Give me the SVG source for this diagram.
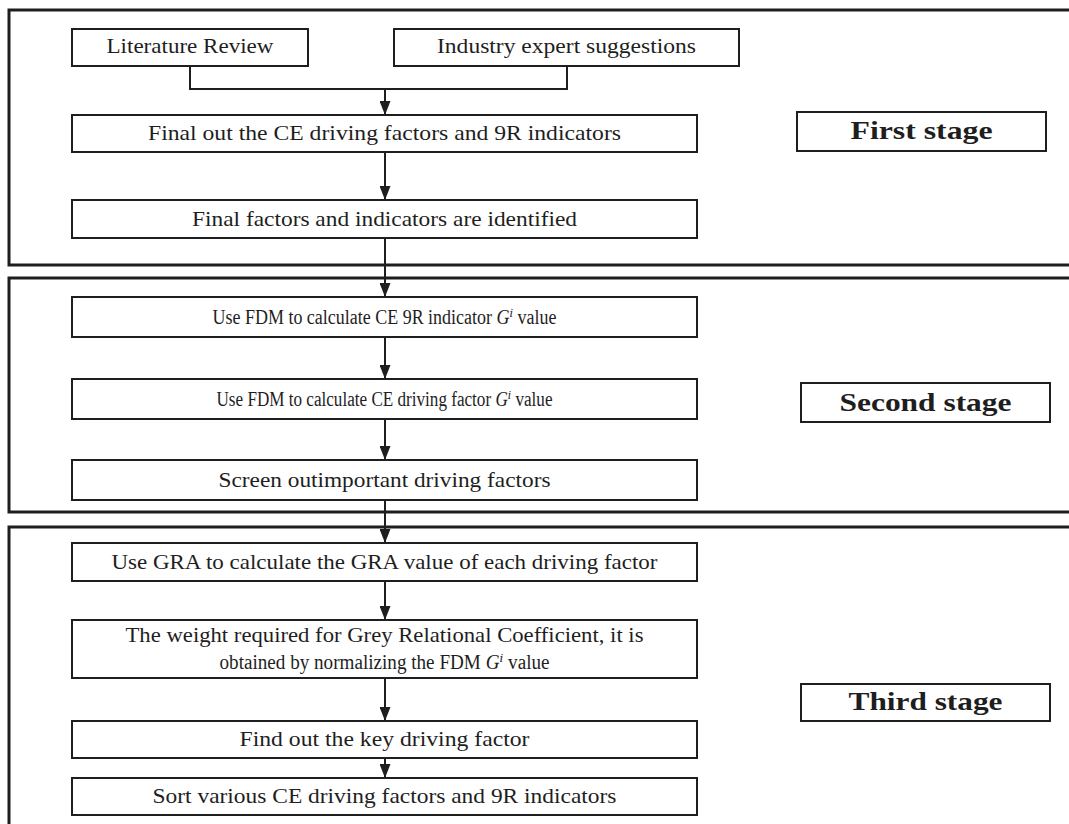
<svg xmlns="http://www.w3.org/2000/svg" width="1069" height="824" viewBox="0 0 1069 824">
<style>
.stage{fill:none;stroke:#1e1e1e;stroke-width:3}
.box{fill:#fff;stroke:#1e1e1e;stroke-width:2}
.t{font-family:"Liberation Serif","DejaVu Serif",serif;font-size:21px;fill:#1e1e1e;text-anchor:middle}
.c{font-size:20px}
.g{font-style:italic}
.b{font-family:"Liberation Serif","DejaVu Serif",serif;font-size:26px;font-weight:bold;fill:#1e1e1e;text-anchor:middle}
.conn{fill:none;stroke:#1e1e1e;stroke-width:2}
</style>
<defs>
<marker id="arr" viewBox="0 0 14 11" refX="14" refY="5.5" markerWidth="14" markerHeight="11" markerUnits="userSpaceOnUse" orient="auto">
<path d="M0,0 L14,5.5 L0,11 Z" fill="#1e1e1e"/>
</marker>
</defs>
<rect width="1069" height="824" fill="#fff"/>
<g id="stages">
<rect class="stage" x="9" y="10" width="1080" height="255"/>
<rect class="stage" x="9" y="278" width="1080" height="234"/>
<rect class="stage" x="9" y="527" width="1080" height="320"/>
</g>
<g id="connectors">
<polyline class="conn" points="190,66 190,89 567,89 567,66"/>
<line class="conn" x1="385" y1="89" x2="385" y2="115" marker-end="url(#arr)"/>
<line class="conn" x1="385" y1="152" x2="385" y2="200" marker-end="url(#arr)"/>
<line class="conn" x1="385" y1="238" x2="385" y2="297" marker-end="url(#arr)"/>
<line class="conn" x1="385" y1="337" x2="385" y2="379" marker-end="url(#arr)"/>
<line class="conn" x1="385" y1="419" x2="385" y2="460" marker-end="url(#arr)"/>
<line class="conn" x1="385" y1="500" x2="385" y2="543" marker-end="url(#arr)"/>
<line class="conn" x1="385" y1="581" x2="385" y2="620" marker-end="url(#arr)"/>
<line class="conn" x1="385" y1="678" x2="385" y2="721" marker-end="url(#arr)"/>
<line class="conn" x1="385" y1="758" x2="385" y2="778" marker-end="url(#arr)"/>
</g>
<g id="lit">
<rect class="box" x="72" y="29" width="236" height="37"/>
<text class="t" x="190" y="53" textLength="167" lengthAdjust="spacingAndGlyphs">Literature Review</text>
</g>
<g id="industry">
<rect class="box" x="394" y="29" width="345" height="37"/>
<text class="t" x="566.5" y="53" textLength="259" lengthAdjust="spacingAndGlyphs">Industry expert suggestions</text>
</g>
<g id="finalout">
<rect class="box" x="72" y="115" width="625" height="37"/>
<text class="t" x="384.5" y="140" textLength="473" lengthAdjust="spacingAndGlyphs">Final out the CE driving factors and 9R indicators</text>
</g>
<g id="finalfac">
<rect class="box" x="72" y="200" width="625" height="38"/>
<text class="t" x="384.5" y="226" textLength="385" lengthAdjust="spacingAndGlyphs">Final factors and indicators are identified</text>
</g>
<g id="fdm1">
<rect class="box" x="72" y="297" width="625" height="40"/>
<text class="t c" x="384.5" y="324" textLength="344" lengthAdjust="spacingAndGlyphs">Use FDM to calculate CE 9R indicator <tspan class="g">Gⁱ</tspan> value</text>
</g>
<g id="fdm2">
<rect class="box" x="72" y="379" width="625" height="40"/>
<text class="t c" x="384.5" y="406" textLength="336" lengthAdjust="spacingAndGlyphs">Use FDM to calculate CE driving factor <tspan class="g">Gⁱ</tspan> value</text>
</g>
<g id="screen">
<rect class="box" x="72" y="460" width="625" height="40"/>
<text class="t" x="384.5" y="487" textLength="332" lengthAdjust="spacingAndGlyphs">Screen outimportant driving factors</text>
</g>
<g id="gra">
<rect class="box" x="72" y="543" width="625" height="38"/>
<text class="t" x="384.5" y="569" textLength="546" lengthAdjust="spacingAndGlyphs">Use GRA to calculate the GRA value of each driving factor</text>
</g>
<g id="weight">
<rect class="box" x="72" y="620" width="625" height="58"/>
<text class="t" x="384.5" y="642" textLength="518" lengthAdjust="spacingAndGlyphs">The weight required for Grey Relational Coefficient, it is</text>
<text class="t c" x="384.5" y="669" textLength="330" lengthAdjust="spacingAndGlyphs">obtained by normalizing the FDM <tspan class="g">Gⁱ</tspan> value</text>
</g>
<g id="find">
<rect class="box" x="72" y="721" width="625" height="37"/>
<text class="t" x="384.5" y="746" textLength="290" lengthAdjust="spacingAndGlyphs">Find out the key driving factor</text>
</g>
<g id="sort">
<rect class="box" x="72" y="778" width="625" height="37"/>
<text class="t" x="384.5" y="803" textLength="464" lengthAdjust="spacingAndGlyphs">Sort various CE driving factors and 9R indicators</text>
</g>
<g id="first">
<rect class="box" x="797" y="112" width="249" height="39"/>
<text class="b" x="921.5" y="139" textLength="142" lengthAdjust="spacingAndGlyphs">First stage</text>
</g>
<g id="second">
<rect class="box" x="801" y="383" width="249" height="39"/>
<text class="b" x="925.5" y="411" textLength="172" lengthAdjust="spacingAndGlyphs">Second stage</text>
</g>
<g id="third">
<rect class="box" x="801" y="684" width="249" height="37"/>
<text class="b" x="925.5" y="710" textLength="154" lengthAdjust="spacingAndGlyphs">Third stage</text>
</g>
</svg>
